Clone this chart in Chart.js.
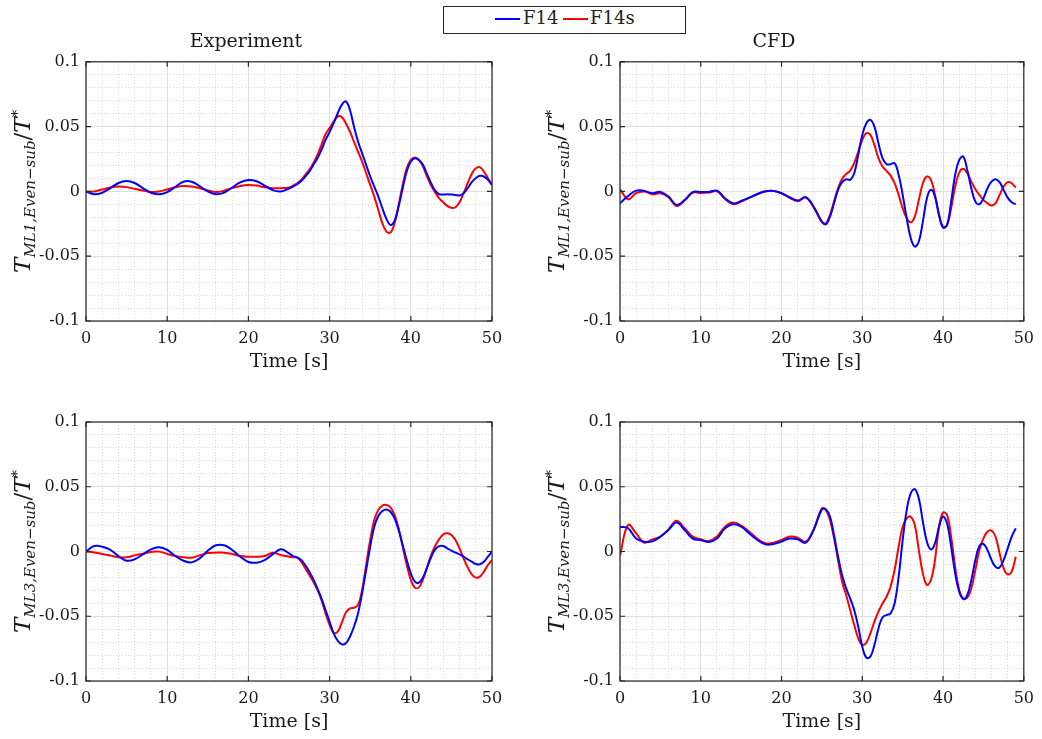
<!DOCTYPE html>
<html>
<head>
<meta charset="utf-8">
<script src="https://cdn.jsdelivr.net/npm/chart.js@4.4.0/dist/chart.umd.min.js"></script>
<style>
body{margin:0;background:#fff;width:1042px;height:739px;position:relative;overflow:hidden;font-family:"DejaVu Serif",serif;color:#222;}
canvas{position:absolute;}
#legend{position:absolute;left:443px;top:6px;width:241px;height:26px;border:1px solid #262626;background:#fff;z-index:5;}
#legend .ln{position:absolute;top:11px;width:25px;height:2px;}
#legend .tx{position:absolute;top:1px;font-size:18px;line-height:20px;}
</style>
</head>
<body>
<div id="legend">
	<div class="ln" style="left:51px;background:#0000ff"></div><div class="tx" style="left:79px">F14</div>
	<div class="ln" style="left:119px;background:#ff0000"></div><div class="tx" style="left:146px">F14s</div>
</div>
<canvas id="c0" width="521" height="380" style="left:0;top:0;width:521px;height:380px"></canvas>
<canvas id="c1" width="521" height="380" style="left:521px;top:0;width:521px;height:380px"></canvas>
<canvas id="c2" width="521" height="369" style="left:0;top:370px;width:521px;height:369px"></canvas>
<canvas id="c3" width="521" height="369" style="left:521px;top:370px;width:521px;height:369px"></canvas>
<script>
// time [s]: 1 s steps up to 25, 0.5 s steps after
var time=[0,1,2,3,4,5,6,7,8,9,10,11,12,13,14,15,16,17,18,19,20,21,22,23,24,25,
	25.5,26,26.5,27,27.5,28,28.5,29,29.5,30,
	30.5,31,31.5,32,32.5,33,33.5,34,34.5,35,
	35.5,36,36.5,37,37.5,38,38.5,39,39.5,40,
	40.5,41,41.5,42,42.5,43,43.5,44,44.5,45,
	45.5,46,46.5,47,47.5,48,48.5,49,49.5,50];

// Experiment, ML1
var expMl1F14=[0,-0.0022,-0.001,0.0025,0.0065,0.0081,0.0065,0.0025,-0.001,-0.0022,-0.0005,0.0035,0.0075,0.0075,0.004,0,-0.0022,-0.001,0.003,0.007,0.0088,0.0078,0.0045,0.001,0,0.0022,
	0.0037,0.0055,0.008,0.0115,0.0153,0.0205,0.0256,0.032,0.0398,0.0457,
	0.0526,0.0603,0.0668,0.0694,0.063,0.050,0.0385,0.0295,0.0205,0.0115,
	0.0037,-0.004,-0.013,-0.0212,-0.0259,-0.0228,-0.0117,0.0025,0.0153,0.023,
	0.0256,0.0243,0.0205,0.0133,0.0063,0.0006,-0.0022,-0.0024,-0.0022,-0.0024,
	-0.0027,-0.0032,-0.0014,0.0025,0.0071,0.0102,0.012,0.0115,0.0089,0.005];
var expMl1F14s=[-0.0005,0,0.0015,0.003,0.0037,0.0033,0.002,0.0007,-0.0005,0,0.0015,0.0032,0.0042,0.0038,0.0025,0.0008,-0.0005,0.0005,0.0025,0.0042,0.005,0.0045,0.0032,0.0025,0.0025,0.003,
	0.0045,0.0063,0.0089,0.0127,0.0166,0.0218,0.0282,0.036,0.0441,0.0488,
	0.054,0.0578,0.0573,0.0526,0.0462,0.0385,0.0307,0.023,0.014,0.005,
	-0.004,-0.0143,-0.0246,-0.031,-0.0318,-0.0246,-0.0104,0.005,0.0179,0.0243,
	0.0261,0.0243,0.0192,0.0115,0.0045,-0.0009,-0.0053,-0.0084,-0.0112,-0.0127,
	-0.0122,-0.0084,-0.0014,0.0063,0.0135,0.0179,0.0187,0.0153,0.0102,0.005];

// CFD, ML1 (ends at 49 s)
var cfdMl1F14=[-0.0092,-0.0035,0.0006,0.0004,-0.0014,-0.0004,-0.004,-0.0104,-0.0066,-0.0006,-0.0004,-0.0004,0.0006,-0.0053,-0.0092,-0.0074,-0.0048,-0.002,0.0001,0.0004,-0.0014,-0.0045,-0.0071,-0.0045,-0.012,-0.0233,
	-0.0253,-0.0194,-0.0091,0.0012,0.0071,0.0094,0.0089,0.014,0.0282,0.0436,
	0.0526,0.0552,0.05,0.0372,0.0256,0.021,0.021,0.0218,0.0128,-0.0027,
	-0.0207,-0.0362,-0.0426,-0.0387,-0.0233,-0.0053,0.0012,-0.004,-0.0181,-0.0279,
	-0.0259,-0.0079,0.0128,0.0243,0.0269,0.0166,0.0024,-0.0079,-0.0099,-0.0053,
	0.0024,0.0075,0.0094,0.0071,0.0012,-0.0048,-0.0084,-0.0099];
var cfdMl1F14s=[0.0017,-0.006,-0.0014,-0.0001,-0.0022,-0.0014,-0.0045,-0.0112,-0.0071,-0.0009,-0.0012,-0.0009,0.0001,-0.0058,-0.0099,-0.0079,-0.005,-0.0022,-0.0001,0.0004,-0.0014,-0.005,-0.0076,-0.0048,-0.0125,-0.0238,
	-0.0246,-0.0181,-0.0079,0.0024,0.0097,0.0133,0.0161,0.0218,0.0308,0.0398,
	0.0449,0.0436,0.0359,0.0256,0.0192,0.0158,0.0122,0.0063,-0.0027,-0.013,
	-0.0207,-0.0238,-0.0194,-0.0066,0.0063,0.0115,0.0089,-0.0027,-0.0181,-0.0272,
	-0.0259,-0.013,0.0037,0.0145,0.0174,0.014,0.0075,0.0017,-0.0027,-0.0066,
	-0.0091,-0.0109,-0.0091,-0.0027,0.0037,0.0071,0.0063,0.003];

// Experiment, ML3
var expMl3F14=[0,0.0042,0.0037,0.0012,-0.0035,-0.0071,-0.006,-0.0022,0.0017,0.0032,0.0012,-0.0035,-0.0071,-0.0084,-0.0053,0.0006,0.0048,0.0048,0.0012,-0.004,-0.0081,-0.0086,-0.0066,-0.0022,0.0017,-0.0015,
	-0.0035,-0.0045,-0.0066,-0.0104,-0.0156,-0.0215,-0.0285,-0.0362,-0.0452,-0.0542,
	-0.0632,-0.0689,-0.0717,-0.0709,-0.0658,-0.0581,-0.0478,-0.0323,-0.0143,0.0037,
	0.0192,0.0274,0.0313,0.0325,0.0307,0.0256,0.0166,0.005,-0.0066,-0.0169,
	-0.0233,-0.0241,-0.02,-0.0125,-0.0045,0.0017,0.0042,0.0042,0.0024,0.0006,
	-0.0009,-0.0022,-0.004,-0.006,-0.0079,-0.0097,-0.0099,-0.0079,-0.004,0];
var expMl3F14s=[0,-0.0008,-0.0019,-0.0032,-0.0045,-0.0045,-0.003,-0.0017,-0.0004,-0.0001,-0.0019,-0.0035,-0.0045,-0.0048,-0.003,-0.0012,-0.0009,-0.0009,-0.0019,-0.0035,-0.004,-0.004,-0.0035,-0.0009,-0.0027,-0.004,
	-0.0045,-0.0048,-0.0079,-0.013,-0.0182,-0.0233,-0.0297,-0.0375,-0.0478,-0.0568,
	-0.0627,-0.0619,-0.055,-0.0472,-0.0439,-0.0434,-0.0413,-0.0297,-0.0104,0.0089,
	0.0243,0.032,0.0354,0.0359,0.0341,0.0282,0.0179,0.0037,-0.0104,-0.022,
	-0.0279,-0.0277,-0.0215,-0.0122,-0.0027,0.0042,0.0096,0.0132,0.014,0.0127,
	0.0089,0.0024,-0.0053,-0.0122,-0.0176,-0.0202,-0.0194,-0.0156,-0.0104,-0.0066];

// CFD, ML3 (ends at 49 s)
var cfdMl3F14=[0.0192,0.0179,0.01,0.0076,0.0078,0.0115,0.0166,0.0223,0.0166,0.01,0.0089,0.0073,0.01,0.0179,0.021,0.0192,0.014,0.0089,0.0055,0.0058,0.0076,0.01,0.0094,0.0068,0.017,0.0325,
	0.0325,0.0269,0.0127,-0.004,-0.0182,-0.0285,-0.0362,-0.0452,-0.058,-0.0735,
	-0.082,-0.0812,-0.0722,-0.0594,-0.0509,-0.0491,-0.0478,-0.0401,-0.0195,0.0088,
	0.032,0.0449,0.0482,0.041,0.023,0.0076,0.0016,0.0063,0.0191,0.0269,
	0.0217,0.0037,-0.0169,-0.0311,-0.0367,-0.0336,-0.022,-0.0066,0.0042,0.0058,
	0.0011,-0.0066,-0.0118,-0.0123,-0.0066,0.0024,0.0114,0.0179];
var cfdMl3F14s=[-0.003,0.0205,0.014,0.0068,0.0094,0.0115,0.0171,0.0238,0.0179,0.0115,0.0094,0.0081,0.0115,0.0192,0.0223,0.02,0.0153,0.01,0.0063,0.0068,0.0089,0.0115,0.0107,0.0076,0.0175,0.0333,
	0.032,0.0243,0.0101,-0.0066,-0.0233,-0.0336,-0.0452,-0.0568,-0.067,-0.0722,
	-0.0704,-0.0632,-0.0542,-0.0465,-0.0401,-0.0349,-0.0272,-0.0143,0.0037,0.0191,
	0.0256,0.0269,0.0204,0.0011,-0.0169,-0.0259,-0.022,-0.0066,0.0191,0.03,
	0.0282,0.0114,-0.0118,-0.0298,-0.0362,-0.0357,-0.0285,-0.0143,0.0011,0.0101,
	0.0153,0.0161,0.0114,-0.0014,-0.013,-0.0177,-0.0156,-0.004];

var FONT='"DejaVu Serif", serif';
var INK='#1a1a1a';

function pts(t, ys){
	var out=[];
	for(var i=0; i<ys.length; i++){
		out.push({x:t[i], y:ys[i]});
	}
	return out;
}
function fmtY(v){
	return String(Math.round(v*100)/100);
}
// box round the axes with inward ticks, like matlab
var framePlugin={
	id:'frame',
	afterDatasetsDraw:function(chart){
		var a=chart.chartArea, ctx=chart.ctx;
		var sx=chart.scales.x, sy=chart.scales.y;
		ctx.save();
		ctx.strokeStyle='#262626';
		ctx.lineWidth=1.2;
		ctx.beginPath();
		sx.ticks.forEach(function(t){
			var p=sx.getPixelForValue(t.value);
			ctx.moveTo(p,a.bottom); ctx.lineTo(p,a.bottom-5);
			ctx.moveTo(p,a.top); ctx.lineTo(p,a.top+5);
		});
		sy.ticks.forEach(function(t){
			var p=sy.getPixelForValue(t.value);
			ctx.moveTo(a.left,p); ctx.lineTo(a.left+5,p);
			ctx.moveTo(a.right,p); ctx.lineTo(a.right-5,p);
		});
		ctx.stroke();
		ctx.strokeRect(a.left, a.top, a.right-a.left, a.bottom-a.top);
		ctx.restore();
	}
};
// rotated y label with sub/superscript
function yLabel(num){
	return {
		id:'ylab',
		afterDraw:function(chart){
			var a=chart.chartArea, ctx=chart.ctx;
			var parts=[
				{t:'T', f:'italic 23px '+FONT, dy:0},
				{t:'ML'+num+',Even\u2212sub', f:'italic 15px '+FONT, dy:5},
				{t:'/', f:'23px '+FONT, dy:0},
				{t:'T', f:'italic 23px '+FONT, dy:0},
				{t:'*', f:'15px '+FONT, dy:-8}
			];
			ctx.save();
			ctx.translate(a.left-64, (a.top+a.bottom)/2);
			ctx.rotate(-Math.PI/2);
			ctx.fillStyle=INK;
			ctx.textBaseline='alphabetic';
			var w=0;
			parts.forEach(function(p){ ctx.font=p.f; p.w=ctx.measureText(p.t).width; w+=p.w; });
			var x=-w/2;
			parts.forEach(function(p){ ctx.font=p.f; ctx.fillText(p.t, x, 8+p.dy); x+=p.w; });
			ctx.restore();
		}
	};
}
function makeChart(id, title, num, blue, red, pad, yWidth){
	var ctx=document.getElementById(id);
	var datasets=[
		{label:'F14', data:pts(time, blue), borderColor:'#0000ff', borderWidth:2, pointRadius:0, fill:false, tension:0.4},
		{label:'F14s', data:pts(time, red), borderColor:'#ff0000', borderWidth:2, pointRadius:0, fill:false, tension:0.4}
	];
	return new Chart(ctx, {
		type:'line',
		data:{datasets:datasets},
		plugins:[framePlugin, yLabel(num)],
		options:{
			responsive:false,
			animation:false,
			devicePixelRatio:1,
			layout:{padding:pad},
			plugins:{
				legend:{display:false},
				tooltip:{enabled:false},
				title:{display:!!title, text:title, color:INK, font:{family:FONT, size:19, weight:'normal'}, padding:{top:31, bottom:8}}
			},
			scales:{
				x:{
					type:'linear', position:'bottom', min:0, max:50,
					ticks:{stepSize:10, color:INK, font:{family:FONT, size:16}, padding:8, maxRotation:0},
					grid:{color:'#e2e2e2', drawTicks:false},
					border:{display:false},
					title:{display:true, text:'Time [s]', color:INK, font:{family:FONT, size:19}, padding:{top:0, bottom:0}},
					afterFit:function(s){ s.height=52; }
				},
				xm:{
					type:'linear', position:'bottom', min:0, max:50, z:-1,
					ticks:{stepSize:2, display:false},
					grid:{color:'#dadada', drawTicks:false},
					border:{display:false, dash:[1,2]},
					afterFit:function(s){ s.height=0; }
				},
				y:{
					type:'linear', position:'left', min:-0.1, max:0.1,
					ticks:{stepSize:0.05, color:INK, font:{family:FONT, size:16}, padding:6, callback:fmtY},
					grid:{color:'#e2e2e2', drawTicks:false},
					border:{display:false},
					afterFit:function(s){ s.width=yWidth; }
				},
				ym:{
					type:'linear', position:'left', min:-0.1, max:0.1, z:-1,
					ticks:{stepSize:0.01, display:false},
					grid:{color:'#dadada', drawTicks:false},
					border:{display:false, dash:[1,2]},
					afterFit:function(s){ s.width=0; }
				}
			}
		}
	});
}
makeChart('c0', 'Experiment', 1, expMl1F14, expMl1F14s, {left:0, top:0, right:29, bottom:7}, 86);
makeChart('c1', 'CFD', 1, cfdMl1F14, cfdMl1F14s, {left:0, top:0, right:15, bottom:7}, 99);
makeChart('c2', '', 3, expMl3F14, expMl3F14s, {left:0, top:52, right:29, bottom:6}, 86);
makeChart('c3', '', 3, cfdMl3F14, cfdMl3F14s, {left:0, top:52, right:15, bottom:6}, 99);
</script>
</body>
</html>
